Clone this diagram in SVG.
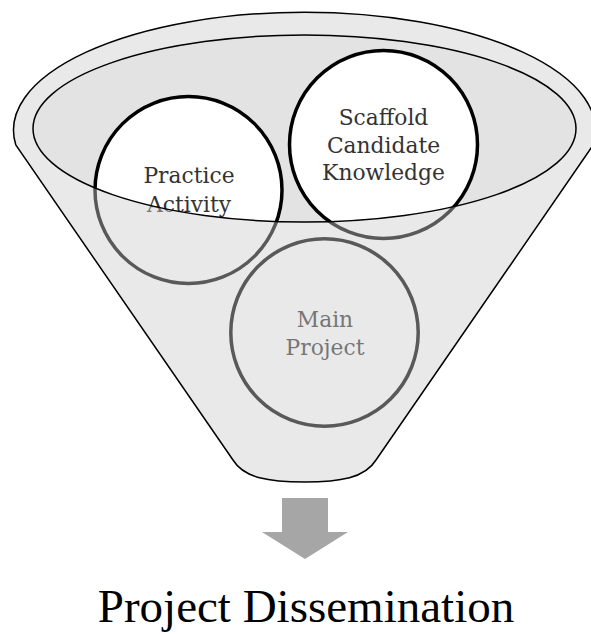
<svg xmlns="http://www.w3.org/2000/svg" width="591" height="634" viewBox="0 0 591 634">
  <style>
    .ring { fill: #ffffff; stroke: #000000; stroke-width: 3.5; }
    .label { font-family: "DejaVu Serif", "Liberation Serif", serif; font-size: 21.8px; fill: #333333; text-anchor: middle; }
    .outline { fill: none; stroke: #000000; stroke-width: 1.5; }
    .title { font-family: "Liberation Serif", "Times New Roman", serif; font-size: 47px; fill: #000000; text-anchor: middle; }
  </style>
  <defs>
    <path id="funnelBody" d="M15.8,145 A291,118 0 1 1 593.2,145 L376,460 C365,478 340,482 304.5,482 C269,482 244,478 233,460 Z"/>
  </defs>

  <!-- funnel opening, behind the items -->
  <ellipse id="opening" cx="304.5" cy="128.5" rx="271.5" ry="93.5" fill="#e3e3e3"/>

  <g id="practice-activity">
    <circle class="ring" cx="188.5" cy="190" r="93.5"/>
    <text class="label" x="189" y="183">Practice</text>
    <text class="label" x="189" y="211.5">Activity</text>
  </g>

  <g id="scaffold-candidate-knowledge">
    <circle class="ring" cx="383.5" cy="144.5" r="94"/>
    <text class="label" x="383.5" y="125">Scaffold</text>
    <text class="label" x="383.5" y="152.5">Candidate</text>
    <text class="label" x="383.5" y="180">Knowledge</text>
  </g>

  <g id="main-project">
    <circle class="ring" cx="324.5" cy="332.5" r="93.7"/>
    <text class="label" x="325" y="327">Main</text>
    <text class="label" x="325" y="354.5">Project</text>
  </g>

  <!-- translucent front face of the funnel, with the opening cut out -->
  <g id="funnel">
    <path d="M15.8,145 A291,118 0 1 1 593.2,145 L376,460 C365,478 340,482 304.5,482 C269,482 244,478 233,460 Z M33,128.5 A271.5,93.5 0 1 0 576,128.5 A271.5,93.5 0 1 0 33,128.5 Z" fill="#cdcdcd" fill-opacity="0.435" fill-rule="evenodd"/>
    <use href="#funnelBody" class="outline"/>
    <ellipse class="outline" cx="304.5" cy="128.5" rx="271.5" ry="93.5"/>
  </g>

  <g id="connectors">
    <polygon points="282,498 328,498 328,532 348,532 305,559 262,532 282,532" fill="#a6a6a6"/>
  </g>

  <g id="project-dissemination">
    <text class="title" x="306" y="622">Project Dissemination</text>
  </g>
</svg>
